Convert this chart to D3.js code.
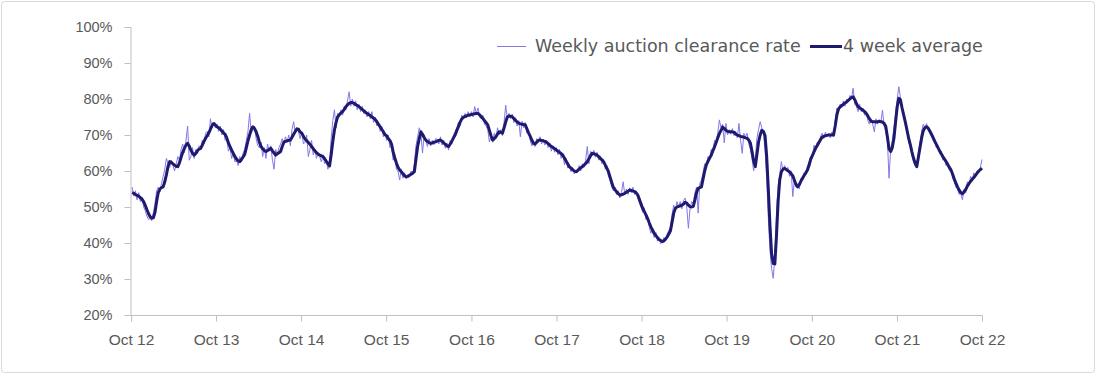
<!DOCTYPE html>
<html>
<head>
<meta charset="utf-8">
<script src="https://cdn.jsdelivr.net/npm/d3@7"></script>
<style>
  body { margin: 0; background: #fff; }
  svg { display: block; font-family: "DejaVu Sans", sans-serif; }
  .axis text { fill: #595959; }
  .axis path, .axis line { stroke: #bfbfbf; }
  .legend text { fill: #595959; font-size: 17.5px; }
</style>
</head>
<body>
<svg width="1096" height="374"></svg>
<script>
// weekly clearance rate (%), one array per Oct-Oct year
const weekly12 = [55.5,53,54.5,52,54,51.5,52.8,50,49,47.5,46.5,46.8,46.2,48.5,51,54.5,55.5,54.2,56.5,58.5,60.5,63.5,62,61,63,61.5,60,62,64,63,66,67.5,65,68.5,72.5,63,64,66.5,63.5,66,64.8,67,66.5,68.5,67.5,70.5,71,69.5,74.5,72,73.5,72];
const weekly13 = [73,71,72.5,70,71.5,68.5,69,65.5,66.5,63.5,65,62.5,63,61.5,64,62.5,65,66,68.5,71,76,70.5,71.5,72.5,69,67,66.5,68,64,66.5,63.5,67.5,65.5,67,63,60.5,66,64.5,66.5,67.5,69,67.5,69.5,68,70,67,71.5,73.7,70.5,72,70.8,69];
const weekly14 = [71,67.5,68,70,64,66,68.5,64.5,66,63.5,65,64,62.5,64.5,62,63,60.5,62,69,74,77,72,76,75,77,75.5,78,77,79.5,82,78,80,78,79.5,77,78.5,76.5,78,76,77,75,76.5,74.5,76.5,73.5,75,72.5,73.5,71,72.5,69.5,70.5];
const weekly15 = [68.5,70,66.5,67,63,64.5,60.5,60,57.5,60.5,58,59.5,57.8,59,58.3,60,59,62,67,69.5,72,70.5,65,70,68.5,66.8,69,67,68.5,67.3,69,68.8,67.5,69.5,67.2,68.5,66.3,67.8,65.8,68.5,67.5,70,71,72,73.5,72.5,75.5,74.5,76,74.8,76.5,75];
const weekly16 = [76.5,75,77.9,76,77.5,75,74.5,75.5,73,72.5,71.5,68.1,69.5,68,70.5,69,72,70,71.5,69.8,73.5,78.3,74.5,76,74.5,75.8,73.5,74.8,72.5,74,69.5,73.8,72,73.5,70.5,71,68.5,67,67.5,66.8,69,68,69.5,67.5,68.8,67.2,68.5,66.5,67.8,65.5,67,65.2];
const weekly17 = [66.5,64.5,66,63.5,65,61.7,63.5,60.8,61.5,59.8,61,59.2,60.3,59.5,61.5,60,62,61,63,66.8,62,65.5,64.3,65.8,63.8,65.2,63,64.2,62,63.2,60.5,61.5,58.5,57.5,55.5,54.5,55.5,53.5,54.5,52.5,54,57,53.5,55,53.5,55.3,54,55.5,53.5,54.5,52.5,51];
const weekly18 = [50,48.5,49.8,46.5,47,44.5,42.7,44,41.5,43,40.5,41.5,39.8,40.2,41.5,40.5,42.5,43.5,44.5,48,50.5,49,51.5,50,51.5,49.5,51.8,52.5,50,44.1,49.5,51.5,51,54,55.5,48.3,56.5,57.5,59.5,62,61,64,63,66,65,68.5,67.5,70.5,74.2,72,73,67.8];
const weekly19 = [73.2,70,71.5,70.2,71.8,69.8,71,69.2,73.2,68.5,64.9,70.5,69.5,70.5,67.5,66,63.5,60,63,69,71.5,73.7,72,70.5,66,58,47,38,33,30.2,36,48,56,59,62.6,60,61.5,60.3,61,58.5,60,52.9,57.5,55.5,56.5,55,58,57.5,59.5,59,61.5,62.5];
const weekly20 = [64,63.5,67.2,66,68,67.5,69.5,70.5,69,70.8,69.5,70.5,69.2,70.8,69.5,74,77.5,76.5,78.5,77.5,79.5,78,80,79.2,81,80.2,83,78.5,78,76.5,78.5,76.5,77.5,75.5,76.5,74,73,74.5,73,70.9,74.5,73,74.2,73.5,76.9,72.5,71,68.5,58,66,68.5,72];
const weekly21 = [76,80,83.4,80.5,77,76,72.5,71.5,68,67,64.5,62.5,61.5,61,65,68,71,73,71.8,73.2,71.5,70.5,70.8,68.5,68.8,66.5,67,64.8,65.5,63,63.8,61.5,62.5,60,60.5,58,57,55.5,55,53.5,53.8,52,55,54,57,56,58.5,57.5,59.5,58.5,60,59.8,61,63.2];

// 4 week average (%)
const avg12 = [54,53.8,53.5,53.2,53,52.6,52.2,51.5,50.5,49.3,48.2,47.3,46.9,47,48.5,51.5,54,55,55.4,55.6,57,59,61.3,62.6,62.4,62,61.6,61.3,61.2,62.3,63.8,65.2,66.3,67.2,67.7,66.9,65.8,64.9,64.4,64.9,65.6,66.1,66.3,67.2,68.2,69.1,69.8,70.6,71.6,72.6,73.2,72.8];
const avg13 = [72.3,72,71.6,71.1,70.6,70.2,69.2,67.8,66.8,65.8,64.9,64,63.3,62.8,62.6,63.2,63.9,64.6,66.5,68.4,70,71.5,72.3,71.8,70.9,69.6,68,66.8,66.2,65.7,65.4,65.7,66,66.3,65.6,65,64.4,64.8,65.1,65.4,66.8,68,68.2,68.4,68.5,68.6,69.4,70.2,71,71.7,71.6,70.8];
const avg14 = [70.5,69.6,68.9,68.4,67.9,67.4,66.8,66.2,65.6,65.1,64.7,64.4,64.2,64,63.4,62.7,62,61.4,64.5,68.2,71.4,73.5,75.1,75.6,76.1,76.5,77.1,77.8,78.4,78.8,79,79,78.8,78.5,78.2,77.9,77.5,77.1,76.7,76.3,76,75.7,75.4,75,74.7,74.3,73.7,73,72.3,71.6,70.9,70.1];
const avg15 = [69.8,69,68.5,67.5,65.3,63.6,62.2,61,60.3,59.8,59.2,58.7,58.4,58.5,58.8,59.1,59.4,59.8,63.3,66.8,69,70.9,70.2,69.3,68.6,68.2,67.9,67.7,67.8,68,68.1,68.3,68.5,68.6,68.2,67.8,67.4,67,66.8,67.5,68.3,69.2,70,71.2,72.3,73.5,74.4,74.9,75.1,75.3,75.5,75.6];
const avg16 = [75.7,75.8,75.9,76,76,75.6,75.1,74.6,74,73.4,72.8,71.3,69.8,68.6,69,69.5,70.3,70.9,70.7,70.5,72,73.6,75,75.3,75.2,75.1,74.6,74.1,73.6,73.3,73.1,73,72.9,72.8,71.7,70.6,69.7,68.6,67.7,67.5,68,68.5,68.6,68.5,68.4,68.2,68,67.6,67.2,66.8,66.5,66.2];
const avg17 = [65.9,65.5,65.2,64.8,64.4,63.6,62.8,62,61.2,60.8,60.4,60,59.8,60.1,60.5,60.9,61.2,61.6,62.1,62.6,63.4,64.2,64.9,64.8,64.6,64.4,64,63.5,63.1,62.6,61.7,60.8,59.8,58.3,56.8,55.5,54.8,54.2,53.7,53.3,53.4,53.6,53.8,54.1,54.4,54.7,54.6,54.4,54.3,53.9,53.3,52.1];
const avg18 = [50.8,49.6,48.7,47.8,46.8,45.6,44.5,43.6,42.7,42.1,41.5,41,40.7,40.4,40.6,41.1,41.7,42.5,43.4,45.8,48.3,49.6,50,50.2,50.3,50.5,50.8,51.3,51.1,50.5,50.1,50,50.2,52,54,55.2,55.4,55.6,57.8,60,61.7,62.7,63.6,64.4,65.6,66.7,67.9,69.2,70.4,71.3,72.2,71.8];
const avg19 = [71.3,71,70.9,70.9,70.9,70.7,70.3,70,69.8,69.6,69.5,69.4,69.2,69.1,68.6,67.8,65.5,62.8,61.2,64.5,68,70,71.3,71,69.8,64,55,45,37,34.3,34.2,42,51.5,57.5,59.8,60.5,60.7,60.4,60.1,59.8,59.2,58.7,57.4,56.2,55.6,56.2,57.2,58,58.8,59.5,60.3,61.6];
const avg20 = [63.3,64.3,65.3,66.3,67.1,67.9,68.7,69.4,69.6,69.8,69.9,70,70,70,70,72.5,75.5,77.2,77.8,78.2,78.5,78.9,79.2,79.6,80,80.4,80.6,79.8,78.8,77.9,77.5,77.2,76.9,76.5,76,75.3,74.5,73.8,73.7,73.7,73.6,73.7,73.8,73.7,73.6,73.2,72.4,69.5,66.2,65.4,66.5,69];
const avg21 = [73.5,77.8,80.2,79.8,77.5,75.5,73.6,71.4,69.2,67.4,65.4,63.6,62.2,61.2,63.8,66.5,69.2,71.2,72,72.3,71.9,71.1,70.2,69.3,68.3,67.4,66.5,65.6,64.8,64,63.3,62.6,61.8,61,60.3,59.1,57.8,56.6,55.6,54.7,54,53.7,54.2,54.8,55.8,56.5,57.1,57.7,58.2,58.8,59.4,60,60.4,60.8];

const firstWeek = new Date(2012, 9, 6);
const tickYears = [2012, 2013, 2014, 2015, 2016, 2017, 2018, 2019, 2020, 2021, 2022];
const yTicks = [20, 30, 40, 50, 60, 70, 80, 90, 100];
const legendLabels = ['Weekly auction clearance rate', '4 week average'];

const weekly = [].concat(weekly12, weekly13, weekly14, weekly15, weekly16, weekly17, weekly18, weekly19, weekly20, weekly21);
const average = [].concat(avg12, avg13, avg14, avg15, avg16, avg17, avg18, avg19, avg20, avg21);
const dateOf = i => d3.timeWeek.offset(firstWeek, i);

const svg = d3.select('svg');

// card border
svg.append('rect')
  .attr('x', 1.5).attr('y', 1.5)
  .attr('width', 1093).attr('height', 371)
  .attr('rx', 3)
  .attr('fill', '#fff')
  .attr('stroke', '#d9d9d9');

const x = d3.scaleTime()
  .domain([new Date(2012, 9, 1), new Date(2022, 9, 1)])
  .range([131, 982]);

const y = d3.scaleLinear()
  .domain([20, 100])
  .range([315, 27]);

// axes
svg.append('g')
  .attr('class', 'axis')
  .attr('transform', 'translate(130.5,0)')
  .style('font-size', '14.5px')
  .call(d3.axisLeft(y).tickValues(yTicks).tickSize(6).tickPadding(12).tickFormat(d => d + '%'))
  .call(g => g.select('.domain').attr('d', 'M-6,27.5H0.5V315.5'));

svg.append('g')
  .attr('class', 'axis')
  .attr('transform', 'translate(0,315.5)')
  .style('font-size', '15.5px')
  .call(d3.axisBottom(x)
    .tickValues(tickYears.map(yr => new Date(yr, 9, 1)))
    .tickSize(6).tickPadding(12)
    .tickFormat(d3.timeFormat('%b %y')))
  .call(g => g.select('.domain').attr('d', 'M130.5,0H982.5'));

// lines
const line = d3.line()
  .x((d, i) => x(dateOf(i)))
  .y(d => y(d));

svg.append('path')
  .datum(weekly)
  .attr('fill', 'none')
  .attr('stroke', '#8577e6')
  .attr('stroke-width', 1)
  .attr('d', line);

svg.append('path')
  .datum(average)
  .attr('fill', 'none')
  .attr('stroke', '#1e1a6e')
  .attr('stroke-width', 3)
  .attr('stroke-linejoin', 'round')
  .attr('d', line);

// legend
const legend = svg.append('g').attr('class', 'legend');
legend.append('line')
  .attr('x1', 497).attr('x2', 526).attr('y1', 46.5).attr('y2', 46.5)
  .attr('stroke', '#8577e6').attr('stroke-width', 1);
legend.append('text')
  .attr('x', 535).attr('y', 52)
  .text(legendLabels[0]);
legend.append('line')
  .attr('x1', 810).attr('x2', 842).attr('y1', 46.5).attr('y2', 46.5)
  .attr('stroke', '#1e1a6e').attr('stroke-width', 3);
legend.append('text')
  .attr('x', 843).attr('y', 52)
  .text(legendLabels[1]);
</script>
</body>
</html>
